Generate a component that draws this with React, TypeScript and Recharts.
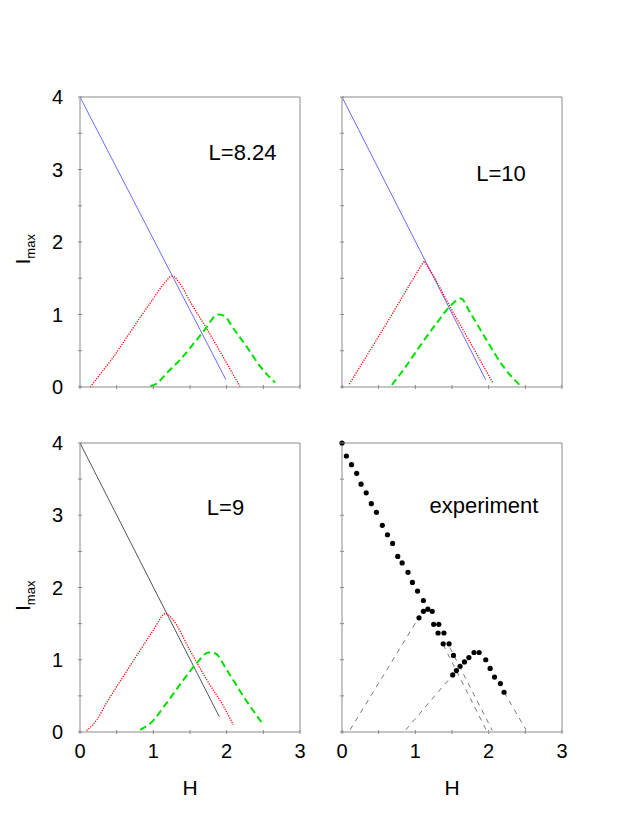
import React from 'react';
import { ComposedChart, Line, Scatter, XAxis, YAxis } from 'recharts';

type Pt = { h: number; i: number };

// axis ticks (labels only on the integers)
const X_TICKS = [0, 0.5, 1, 1.5, 2, 2.5, 3];
const Y_TICKS = [0, 0.5, 1, 1.5, 2, 2.5, 3, 3.5, 4];

// L = 8.24
const blue824: Pt[] = [{ h: 0, i: 4 }, { h: 1.99, i: 0.1 }];
const red824: Pt[] = [
  { h: 0.14, i: 0 }, { h: 0.27, i: 0.17 }, { h: 0.46, i: 0.42 }, { h: 0.64, i: 0.69 },
  { h: 0.82, i: 0.96 }, { h: 1.0, i: 1.22 }, { h: 1.14, i: 1.42 }, { h: 1.26, i: 1.53 },
  { h: 1.36, i: 1.43 }, { h: 1.5, i: 1.18 }, { h: 1.73, i: 0.8 }, { h: 1.96, i: 0.4 },
  { h: 2.18, i: 0.01 },
];
const green824: Pt[] = [
  { h: 0.96, i: 0.01 }, { h: 1.05, i: 0.05 }, { h: 1.18, i: 0.19 }, { h: 1.36, i: 0.37 },
  { h: 1.55, i: 0.6 }, { h: 1.73, i: 0.83 }, { h: 1.82, i: 0.96 }, { h: 1.9, i: 1.0 },
  { h: 1.98, i: 0.97 }, { h: 2.09, i: 0.81 }, { h: 2.27, i: 0.56 }, { h: 2.46, i: 0.28 },
  { h: 2.66, i: 0.06 },
];

// L = 10
const blue10: Pt[] = [{ h: 0, i: 4 }, { h: 1.96, i: 0.1 }];
const red10: Pt[] = [
  { h: 0.1, i: 0.04 }, { h: 0.61, i: 0.88 }, { h: 0.88, i: 1.34 }, { h: 1.12, i: 1.74 },
  { h: 1.25, i: 1.53 }, { h: 1.52, i: 1.02 }, { h: 1.79, i: 0.54 }, { h: 2.06, i: 0.05 },
];
const green10: Pt[] = [
  { h: 0.68, i: 0.03 }, { h: 0.84, i: 0.24 }, { h: 1.06, i: 0.56 }, { h: 1.29, i: 0.88 },
  { h: 1.47, i: 1.11 }, { h: 1.62, i: 1.22 }, { h: 1.75, i: 1.02 }, { h: 1.97, i: 0.65 },
  { h: 2.2, i: 0.28 }, { h: 2.42, i: 0.03 },
];

// L = 9
const black9: Pt[] = [{ h: 0, i: 4 }, { h: 1.9, i: 0.21 }];
const red9: Pt[] = [
  { h: 0.09, i: 0.02 }, { h: 0.23, i: 0.17 }, { h: 0.36, i: 0.4 }, { h: 0.59, i: 0.77 },
  { h: 0.82, i: 1.13 }, { h: 1.0, i: 1.41 }, { h: 1.17, i: 1.64 }, { h: 1.27, i: 1.55 },
  { h: 1.5, i: 1.13 }, { h: 1.73, i: 0.72 }, { h: 1.96, i: 0.35 }, { h: 2.09, i: 0.1 },
];
const green9: Pt[] = [
  { h: 0.82, i: 0.03 }, { h: 0.96, i: 0.12 }, { h: 1.18, i: 0.4 }, { h: 1.41, i: 0.72 },
  { h: 1.59, i: 0.95 }, { h: 1.75, i: 1.1 }, { h: 1.84, i: 1.09 }, { h: 2.0, i: 0.86 },
  { h: 2.23, i: 0.49 }, { h: 2.5, i: 0.1 },
];

// experiment
const expDots: Pt[] = [
  { h: 0, i: 4.0 }, { h: 0.06, i: 3.82 }, { h: 0.13, i: 3.7 }, { h: 0.2, i: 3.58 },
  { h: 0.26, i: 3.43 }, { h: 0.33, i: 3.31 }, { h: 0.4, i: 3.16 }, { h: 0.47, i: 3.04 },
  { h: 0.55, i: 2.86 }, { h: 0.62, i: 2.73 }, { h: 0.69, i: 2.61 }, { h: 0.76, i: 2.43 },
  { h: 0.82, i: 2.34 }, { h: 0.9, i: 2.21 }, { h: 0.96, i: 2.07 }, { h: 1.03, i: 1.95 },
  { h: 1.11, i: 1.82 }, { h: 1.05, i: 1.58 }, { h: 1.11, i: 1.67 }, { h: 1.17, i: 1.7 },
  { h: 1.23, i: 1.67 }, { h: 1.25, i: 1.49 }, { h: 1.32, i: 1.49 }, { h: 1.31, i: 1.37 },
  { h: 1.39, i: 1.37 }, { h: 1.38, i: 1.22 }, { h: 1.46, i: 1.22 }, { h: 1.52, i: 1.06 },
  { h: 1.51, i: 0.79 }, { h: 1.56, i: 0.85 }, { h: 1.61, i: 0.91 }, { h: 1.67, i: 0.97 },
  { h: 1.73, i: 1.03 }, { h: 1.8, i: 1.1 }, { h: 1.87, i: 1.1 }, { h: 1.96, i: 1.0 },
  { h: 2.02, i: 0.88 }, { h: 2.08, i: 0.76 }, { h: 2.16, i: 0.67 }, { h: 2.21, i: 0.55 },
];
const guideA: Pt[] = [{ h: 0.11, i: 0.03 }, { h: 1.045, i: 1.58 }];
const guideB: Pt[] = [{ h: 1.38, i: 1.21 }, { h: 1.97, i: 0.02 }];
const guideC: Pt[] = [{ h: 1.47, i: 1.17 }, { h: 2.05, i: 0.02 }];
const guideD: Pt[] = [{ h: 0.87, i: 0.03 }, { h: 1.51, i: 0.79 }];
const guideE: Pt[] = [{ h: 2.21, i: 0.55 }, { h: 2.51, i: 0.03 }];

const FRAME = '#8a8a8a';
const FONT = '"Liberation Sans", Arial, Helvetica, sans-serif';
const TICK = 4;

function BottomTick(props: any) {
  const { x, y, payload, show } = props;
  const v = payload.value;
  return (
    <g>
      <line x1={x} x2={x} y1={y} y2={y - TICK} stroke={FRAME} />
      {show && Number.isInteger(v) && (
        <text x={x} y={y + 24} textAnchor="middle" fontSize={20} fontFamily={FONT} fill="#000">{v}</text>
      )}
    </g>
  );
}

function LeftTick(props: any) {
  const { x, y, payload, show } = props;
  const v = payload.value;
  return (
    <g>
      <line x1={x} x2={x + TICK} y1={y} y2={y} stroke={FRAME} />
      {show && Number.isInteger(v) && (
        <text x={x - 15} y={y} dy="0.36em" textAnchor="end" fontSize={20} fontFamily={FONT} fill="#000">{v}</text>
      )}
    </g>
  );
}

function TopTick(props: any) {
  const { x, y } = props;
  return <line x1={x} x2={x} y1={y} y2={y + TICK} stroke={FRAME} />;
}

function RightTick(props: any) {
  const { x, y } = props;
  return <line x1={x} x2={x - TICK} y1={y} y2={y} stroke={FRAME} />;
}

const ax = { xAxisId: 'b', yAxisId: 'l' };

function curve(data: Pt[], stroke: string, width: number, dash?: string, type: any = 'monotone') {
  return (
    <Line
      {...ax}
      data={data}
      dataKey="i"
      type={type}
      stroke={stroke}
      strokeWidth={width}
      strokeDasharray={dash}
      dot={false}
      activeDot={false}
      isAnimationActive={false}
    />
  );
}

function Panel({ left, top, plotH, xLabels, yLabels, children }: any) {
  return (
    <div style={{ position: 'absolute', left: left - 60, top: top - 10 }}>
      <ComposedChart width={290} height={plotH + 50} margin={{ top: 10, right: 10, bottom: 0, left: 0 }}>
        <XAxis
          xAxisId="b"
          type="number"
          dataKey="h"
          domain={[0, 3]}
          ticks={X_TICKS}
          interval={0}
          height={40}
          tickSize={0}
          tickLine={false}
          axisLine={{ stroke: FRAME }}
          tick={(p: any) => <BottomTick {...p} show={xLabels} />}
        />
        <XAxis
          xAxisId="t"
          orientation="top"
          mirror
          type="number"
          dataKey="h"
          domain={[0, 3]}
          ticks={X_TICKS}
          interval={0}
          tickSize={0}
          tickLine={false}
          axisLine={{ stroke: FRAME }}
          tick={(p: any) => <TopTick {...p} />}
        />
        <YAxis
          yAxisId="l"
          type="number"
          dataKey="i"
          domain={[0, 4]}
          ticks={Y_TICKS}
          interval={0}
          width={60}
          tickSize={0}
          tickLine={false}
          axisLine={{ stroke: FRAME }}
          tick={(p: any) => <LeftTick {...p} show={yLabels} />}
        />
        <YAxis
          yAxisId="r"
          orientation="right"
          mirror
          type="number"
          dataKey="i"
          domain={[0, 4]}
          ticks={Y_TICKS}
          interval={0}
          tickSize={0}
          tickLine={false}
          axisLine={{ stroke: FRAME }}
          tick={(p: any) => <RightTick {...p} />}
        />
        {children}
      </ComposedChart>
    </div>
  );
}

const BLUE = '#6a6aff';
const RED = '#ff0000';
const GREEN = '#00e000';
const RED_DASH = '1.2 1.3';
const GREEN_DASH = '7 4';

function YLabel({ x, y }: { x: number; y: number }) {
  return (
    <g transform={`translate(${x},${y}) rotate(-90)`}>
      <text x={0} y={0} fontSize={21} fontFamily={FONT} fill="#000">
        I<tspan fontSize={13} dy={5}>max</tspan>
      </text>
    </g>
  );
}

export default function App() {
  return (
    <div style={{ position: 'absolute', left: 0, top: 0, width: 642, height: 830, background: '#fff' }}>
      <Panel left={80} top={97} plotH={290} xLabels={false} yLabels>
        {curve(blue824, BLUE, 1, undefined, 'linear')}
        {curve(red824, RED, 1.3, RED_DASH)}
        {curve(green824, GREEN, 2, GREEN_DASH)}
      </Panel>
      <Panel left={342} top={97} plotH={290} xLabels={false} yLabels={false}>
        {curve(blue10, BLUE, 1, undefined, 'linear')}
        {curve(red10, RED, 1.3, RED_DASH, 'linear')}
        {curve(green10, GREEN, 2, GREEN_DASH)}
      </Panel>
      <Panel left={80} top={443} plotH={289} xLabels yLabels>
        {curve(black9, '#555555', 1, undefined, 'linear')}
        {curve(red9, RED, 1.3, RED_DASH)}
        {curve(green9, GREEN, 2, GREEN_DASH)}
      </Panel>
      <Panel left={342} top={443} plotH={289} xLabels yLabels={false}>
        {curve(guideA, '#555555', 0.8, '5 5', 'linear')}
        {curve(guideB, '#555555', 0.8, '5 5', 'linear')}
        {curve(guideC, '#555555', 0.8, '5 5', 'linear')}
        {curve(guideD, '#555555', 0.8, '5 5', 'linear')}
        {curve(guideE, '#555555', 0.8, '5 5', 'linear')}
        <Scatter
          {...ax}
          data={expDots}
          dataKey="i"
          isAnimationActive={false}
          shape={(p: any) => <circle cx={p.cx} cy={p.cy} r={2.6} fill="#000" />}
        />
      </Panel>
      <svg width={642} height={830} style={{ position: 'absolute', left: 0, top: 0, pointerEvents: 'none' }}>
        <text x={242.5} y={160} textAnchor="middle" fontSize={22} fontFamily={FONT}>L=8.24</text>
        <text x={501} y={181} textAnchor="middle" fontSize={22} fontFamily={FONT}>L=10</text>
        <text x={225.5} y={515} textAnchor="middle" fontSize={22} fontFamily={FONT}>L=9</text>
        <text x={484} y={513} textAnchor="middle" fontSize={22} fontFamily={FONT}>experiment</text>
        <text x={190} y={795} textAnchor="middle" fontSize={21} fontFamily={FONT}>H</text>
        <text x={452} y={795} textAnchor="middle" fontSize={21} fontFamily={FONT}>H</text>
        <YLabel x={30} y={264.5} />
        <YLabel x={30} y={611} />
      </svg>
    </div>
  );
}
